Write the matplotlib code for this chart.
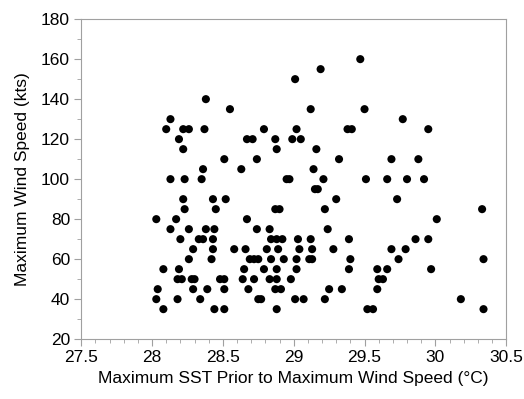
import numpy as np
import matplotlib
matplotlib.use("Agg")
import matplotlib.pyplot as plt
from matplotlib.ticker import MultipleLocator

plt.rcParams['font.family'] = ['Liberation Sans', 'DejaVu Sans']

# SST (deg C) values grouped by wind speed (kts)
sst_by_wind = {
    160: [29.47],
    155: [29.19],
    150: [29.01],
    140: [28.38],
    135: [28.55, 29.12, 29.50],
    130: [28.13, 29.77],
    125: [28.10, 28.22, 28.26, 28.37, 28.79, 29.02, 29.38, 29.41, 29.95],
    120: [28.19, 28.67, 28.71, 28.87, 28.99, 29.05],
    115: [28.22, 28.88, 29.16],
    110: [28.51, 28.74, 29.32, 29.69, 29.88],
    105: [28.36, 28.63, 29.14],
    100: [28.13, 28.23, 28.35, 28.95, 28.97, 29.21, 29.51, 29.66, 29.80, 29.92],
    95: [29.15, 29.17],
    90: [28.22, 28.43, 28.52, 29.30, 29.73],
    85: [28.23, 28.45, 28.87, 28.90, 29.22, 30.33],
    80: [28.03, 28.17, 28.67, 30.01],
    75: [28.13, 28.26, 28.38, 28.44, 28.74, 28.83, 29.24],
    70: [28.20, 28.33, 28.36, 28.43, 28.84, 28.88, 28.92, 29.03, 29.12, 29.39,
         29.86, 29.95],
    65: [28.29, 28.43, 28.58, 28.66, 28.81, 28.89, 29.04, 29.13, 29.28, 29.69,
         29.79],
    60: [28.26, 28.42, 28.69, 28.72, 28.75, 28.84, 28.93, 29.02, 29.11, 29.13,
         29.40, 29.74, 30.34],
    55: [28.08, 28.19, 28.65, 28.79, 28.88, 29.02, 29.39, 29.59, 29.66, 29.97],
    50: [28.18, 28.21, 28.28, 28.30, 28.48, 28.51, 28.64, 28.72, 28.83, 28.88,
         28.98, 29.60, 29.63],
    45: [28.04, 28.29, 28.39, 28.51, 28.68, 28.87, 28.91, 29.25, 29.34, 29.59],
    40: [28.03, 28.18, 28.34, 28.75, 28.77, 29.01, 29.07, 29.22, 30.18],
    35: [28.08, 28.44, 28.51, 28.88, 29.52, 29.56, 30.34],
}

sst = []
wind = []
for w, xs in sst_by_wind.items():
    sst += xs
    wind += [w] * len(xs)

fig = plt.figure(figsize=(5.24, 3.99), dpi=100)
ax = fig.add_axes([0.155, 0.150, 0.811, 0.802])

ax.scatter(sst, wind, s=34, color='black', edgecolors='none', zorder=3)

ax.set_xlim(27.5, 30.5)
ax.set_ylim(20, 180)
ax.xaxis.set_major_locator(MultipleLocator(0.5))
ax.xaxis.set_minor_locator(MultipleLocator(0.1))
ax.yaxis.set_major_locator(MultipleLocator(20))
ax.yaxis.set_minor_locator(MultipleLocator(10))
ax.set_xticklabels([f"{v:g}" for v in ax.get_xticks()])

gray = '#a0a0a0'
for sp in ax.spines.values():
    sp.set_color(gray)
ax.tick_params(which='both', direction='out', color=gray, labelsize=12.5,
               top=False, right=False)
ax.tick_params(which='major', length=5, pad=3)
ax.tick_params(which='minor', length=3)

ax.set_xlabel('Maximum SST Prior to Maximum Wind Speed (°C)', fontsize=12.5,
              labelpad=4)
ax.set_ylabel('Maximum Wind Speed (kts)', fontsize=12.5, labelpad=8)

fig.savefig('out.png', dpi=100)
